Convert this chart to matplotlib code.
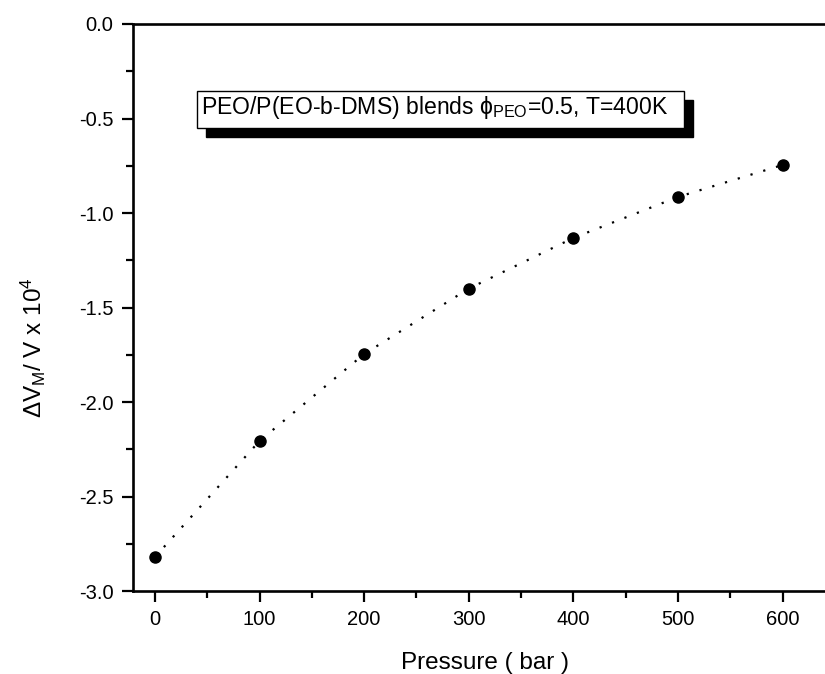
import matplotlib.pyplot as plt
from matplotlib.patches import Rectangle
from matplotlib.ticker import MultipleLocator

plt.rcParams['font.family'] = ['Liberation Sans', 'DejaVu Sans']
plt.rcParams['mathtext.fontset'] = 'custom'
plt.rcParams['mathtext.rm'] = 'Liberation Sans'
plt.rcParams['mathtext.it'] = 'Liberation Sans'

# data
pressure = [0, 100, 200, 300, 400, 500, 600]
dvm = [-2.82, -2.206, -1.746, -1.40, -1.132, -0.915, -0.746]

fig = plt.figure(figsize=(8.25, 6.74), dpi=100)
# axes runs a bit past the right edge of the picture (right spine cut off)
ax = fig.add_axes([0.1612, 0.1231, 0.8533, 0.8413])

ax.plot(pressure, dvm, color='black', linestyle=(0, (1, 5)), linewidth=1.6)
ax.plot(pressure, dvm, 'o', color='black', markersize=8)

ax.set_xlim(-21, 652)
ax.set_ylim(-3.0, 0.0)
ax.xaxis.set_major_locator(MultipleLocator(100))
ax.xaxis.set_minor_locator(MultipleLocator(50))
ax.yaxis.set_major_locator(MultipleLocator(0.5))
ax.yaxis.set_minor_locator(MultipleLocator(0.25))
ax.yaxis.set_major_formatter(plt.FormatStrFormatter('%.1f'))
ax.tick_params(which='both', direction='out', width=1.6, labelsize=14.5)
ax.tick_params(which='major', length=8, pad=6)
ax.tick_params(which='minor', length=5)
ax.spines['right'].set_visible(False)
for s in ['left', 'bottom', 'top']:
    ax.spines[s].set_linewidth(1.9)

ax.set_xlabel('Pressure ( bar )', fontsize=17.5, labelpad=16)
ax.set_ylabel(r'$\Delta$V$_{M}$/ V x 10$^{4}$', fontsize=17.5)
ax.yaxis.set_label_coords(-0.121, 0.4286)

# boxed label with a solid shadow
bx, by, bw, bh = 0.0909, 0.817, 0.6917, 0.065
ax.add_patch(Rectangle((bx + 0.0128, by - 0.016), bw, bh, transform=ax.transAxes,
                       facecolor='black', edgecolor='black', zorder=3))
ax.add_patch(Rectangle((bx, by), bw, bh, transform=ax.transAxes,
                       facecolor='white', edgecolor='black', linewidth=1.0, zorder=4))
ax.text(bx + 0.006, by + bh / 2 + 0.004, r'PEO/P(EO-b-DMS) blends $\phi_{\rm PEO}$=0.5, T=400K',
        transform=ax.transAxes, fontsize=16.6, va='center', ha='left', zorder=5)

fig.savefig('out.png', dpi=100)
